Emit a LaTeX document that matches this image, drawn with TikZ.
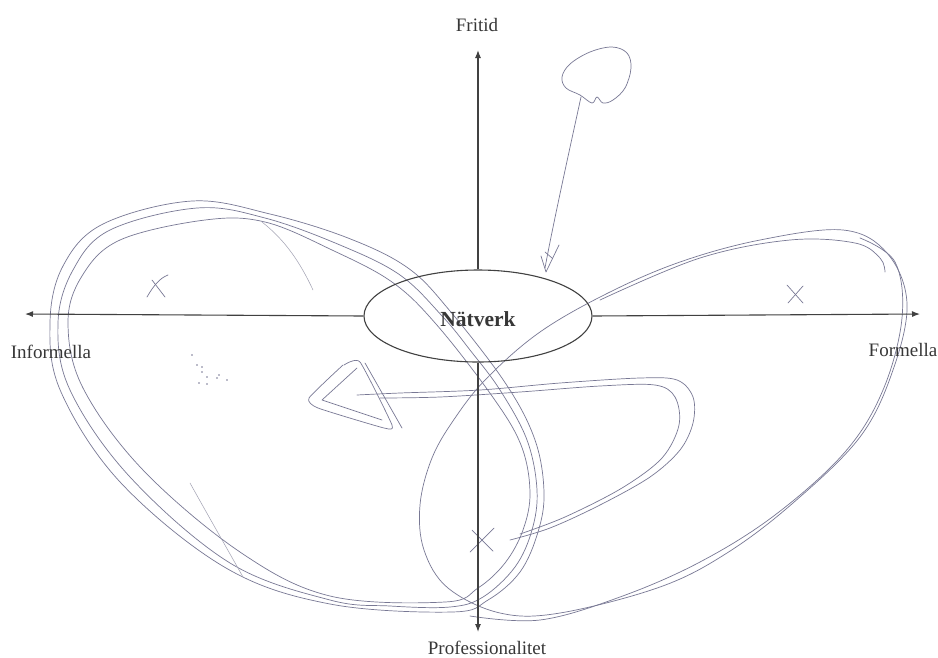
\documentclass[tikz,border=0pt]{standalone}
\usepackage{fontspec}
\setmainfont{Liberation Serif}
\usetikzlibrary{shapes.geometric,arrows.meta}
\definecolor{pen}{RGB}{120,120,148}
\definecolor{penlight}{RGB}{160,160,178}
\definecolor{axisc}{RGB}{65,65,65}
\definecolor{textc}{RGB}{55,55,55}
\tikzset{
  axis/.style={draw=axisc,line width=1.1pt,-{Latex[length=8pt,width=6pt]}},
  lbl/.style={inner sep=0pt,text=textc,font=\fontsize{19}{22}\selectfont},
  stroke/.style={draw=pen,line width=0.7pt,line cap=round,line join=round},
  faint/.style={draw=penlight,line width=0.5pt,line cap=round},
}
\begin{document}
\begin{tikzpicture}[x=1pt,y=-1pt]
\useasboundingbox[fill=white] (0,0) rectangle (938,657);

% hand-drawn left loop (three strokes)
\draw[stroke] plot[smooth cycle,tension=0.6] coordinates {(443,317) (470,350) (500,390) (527,440) (537,490) (532,530) (515,567) (483,597) (450,607) (390,606) (330,600) (230,563) (130,477) (70,390) (58,323) (73,270) (110,230) (197,208) (265,218) (340,245) (400,275)};
\draw[stroke] plot[smooth cycle,tension=0.6] coordinates {(436,324) (492,396) (521,445) (530,492) (523,530) (505,563) (478,588) (445,602) (330,596) (240,552) (143,470) (83,388) (68,323) (82,276) (120,240) (205,220) (265,222) (332,250) (392,282)};
\draw[stroke] plot[smooth cycle,tension=0.6] coordinates {(450,311) (506,384) (535,440) (544,492) (538,532) (520,572) (488,600) (452,612) (330,604) (226,568) (121,483) (61,392) (50,323) (63,266) (103,224) (192,201) (270,214) (348,238) (408,268)};
\draw[faint] (262,222) .. controls (285,240) and (300,262) .. (313,290);
\draw[faint] (190,483) .. controls (205,510) and (225,545) .. (243,577);

% dots
\foreach \p in {(192,355),(197,365),(202,367),(202,372),(207,377),(217,378),(219,375),(227,380),(199,383),(207,384)}
  \fill[pen] \p circle (0.9pt);

% right loop
\draw[stroke] plot[smooth cycle,tension=0.6] coordinates {(487,378) (540,332) (608,293) (680,262) (760,240) (843,230) (887,253) (907,303) (893,370) (860,437) (793,503) (727,553) (660,587) (560,613) (500,613) (448,588) (424,550) (420,505) (432,458) (455,418)};
\draw[stroke] plot[smooth,tension=0.6] coordinates {(600,300) (700,258) (790,240) (855,243) (880,258) (885,272)};
\draw[stroke] plot[smooth,tension=0.6] coordinates {(860,238) (895,262) (902,318) (883,390) (845,452) (775,515) (700,562) (620,597) (540,620) (470,616)};

% middle loop from triangle
\draw[stroke] plot[smooth,tension=0.55] coordinates {(357,395) (400,393) (480,390) (560,383) (640,378) (677,380) (693,397) (693,423) (680,450) (650,477) (600,505) (550,528) (510,540)};
\draw[stroke] plot[smooth,tension=0.55] coordinates {(380,398) (440,397) (520,392) (600,386) (655,385) (675,397) (679,425) (662,458) (622,488) (565,517) (520,534)};

% triangle scribble
\draw[stroke] plot[smooth,tension=0.3] coordinates {(344,365) (360,362) (392,425) (384,428) (318,408) (309,398) (343,365)};
\draw[stroke] (357,368) -- (322,400) -- (382,420);
\draw[stroke] (365,363) -- (402,428);

% balloon with stem
\draw[stroke] plot[smooth cycle,tension=0.6] coordinates {(580,95) (566,88) (562,77) (570,64) (590,52) (612,47) (627,53) (631,68) (625,88) (613,100) (603,103) (597,97) (592,103)};
\draw[stroke] (581,97) .. controls (565,170) and (552,230) .. (545,268);
\draw[stroke] (541,256) -- (546,272) -- (559,245);
\draw[stroke] (545,252) -- (552,258);

% X marks
\draw[stroke] (147,297) .. controls (154,285) and (160,278) .. (168,275);
\draw[stroke] (152,280) -- (165,297);
\draw[stroke] (787,285) -- (803,303);
\draw[stroke] (803,286) -- (788,303);
\draw[stroke] (470,552) -- (494,528);
\draw[stroke] (472,530) -- (493,551);

% printed diagram
\node[draw=axisc,line width=1.1pt,ellipse,minimum width=228pt,minimum height=92pt,inner sep=0pt] (net) at (478,316) {};
\node[inner sep=0pt,text=textc,font=\fontsize{21.5}{24}\selectfont\bfseries] (nettext) at (478,319) {Nätverk};
\coordinate (L) at (25,314);
\coordinate (R) at (920,314);
\coordinate (T) at (478,50);
\coordinate (B) at (478,632);
\draw[axis] (net.west) -- (L);
\draw[axis] (net.east) -- (R);
\draw[axis] (net.north) -- (T);
\draw[axis] (net.south) -- (B);
\node[lbl] (fritid) at (477,25) {Fritid};
\node[lbl] (inf) at (51,352) {Informella};
\node[lbl] (form) at (903,350) {Formella};
\node[lbl] (prof) at (487,648) {Professionalitet};
\end{tikzpicture}
\end{document}
